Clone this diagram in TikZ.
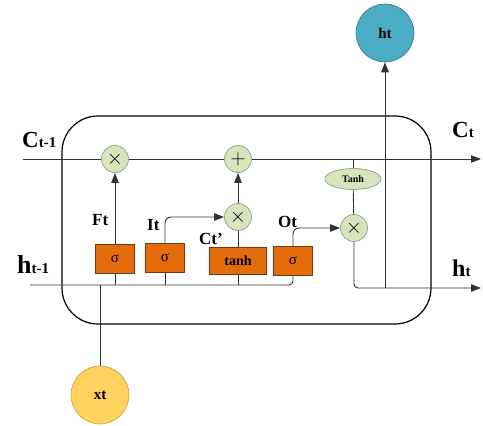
\documentclass[tikz,border=0pt]{standalone}
\usepackage{fontspec}
\setmainfont{Liberation Serif}
\usetikzlibrary{arrows.meta,shapes.geometric}
\definecolor{opgreen}{RGB}{216,228,190}
\definecolor{opline}{RGB}{150,165,130}
\definecolor{gateorange}{RGB}{228,108,10}
\definecolor{gateline}{RGB}{110,60,25}
\definecolor{outblue}{RGB}{75,172,198}
\definecolor{outline}{RGB}{50,120,140}
\definecolor{inyellow}{RGB}{254,210,92}
\definecolor{inline}{RGB}{200,160,60}
\tikzset{
  op/.style={circle, draw=opline, fill=opgreen, line width=0.8pt, minimum size=27pt, inner sep=0pt, font=\fontsize{20}{20}\selectfont},
  gate/.style={rectangle, draw=gateline, fill=gateorange, line width=0.8pt, minimum width=39pt, minimum height=29pt, inner sep=0pt},
  io/.style={circle, minimum size=58pt, inner sep=0pt, line width=0.6pt, font=\bfseries\fontsize{15}{15}\selectfont},
  wire/.style={draw=black!80, line width=0.9pt},
  arr/.style={wire, -{Triangle[length=10pt,width=7.5pt]}},
  lbl/.style={anchor=base west, inner sep=0pt, font=\bfseries\fontsize{17}{17}\selectfont}
}
\begin{document}
\begin{tikzpicture}[x=1pt, y=-1pt]
\useasboundingbox (0,0) rectangle (483,426);
% Cell
\draw[line width=1.2pt, rounded corners=36pt] (62,116) rectangle (431,324);

% Ends of the two lines
\coordinate (cin) at (23,159);
\coordinate (cout) at (481,159);
\coordinate (hin) at (30,285);
\coordinate (hout) at (481,288);
\coordinate (hjoin) at (385,288);

% Operations
\node[op] (mul1) at (115,159) {$\times$};
\node[op] (add) at (238,159) {$+$};
\node[op] (mul2) at (238,217) {$\times$};
\node[op] (mul3) at (354,228) {$\times$};
\node[ellipse, draw=opline, fill=opgreen, line width=0.8pt, minimum width=56pt, minimum height=21pt, inner sep=0pt,
  font=\bfseries\fontsize{10}{10}\selectfont] (tanhc) at (353,179) {Tanh};

% Gates
\node[gate, font=\fontsize{15}{15}\selectfont] (fg) at (115,259) {σ};
\node[gate, font=\fontsize{15}{15}\selectfont] (ig) at (165,258) {σ};
\node[gate, minimum width=57pt, minimum height=27pt, font=\bfseries\fontsize{14}{14}\selectfont] (cg) at (238,261) {tanh};
\node[gate, font=\fontsize{15}{15}\selectfont] (og) at (293,261) {σ};

% Input and output
\node[io, draw=inline, fill=inyellow] (xt) at (100,395) {xt};
\node[io, draw=outline, fill=outblue] (ht) at (385,33) {ht};

% Cell state line
\draw[wire] (cin) -- (mul1) -- (add);
\draw[arr] (add) -- (cout);
\draw[wire] (tanhc.north) -- (tanhc |- cin);
\draw[wire] (mul3) -- (tanhc);

% Hidden state line
\draw[wire, rounded corners=4pt] (hin) -- (og.south |- hin) -- (og.south);
\draw[wire] (xt) -- (xt |- hin);
\draw[wire] (fg.south |- hin) -- (fg.south);
\draw[wire] (ig.south |- hin) -- (ig.south);
\draw[wire] (cg.south |- hin) -- (cg.south);
\draw[arr, rounded corners=4pt] (mul3.south) |- (hout);
\draw[arr] (hjoin) -- (ht);

% Gate outputs
\draw[arr] (fg.north) -- (mul1);
\draw[arr, rounded corners=6pt] (ig.north) |- (mul2.west);
\draw[wire] (cg.north) -- (mul2);
\draw[arr] (mul2) -- (add);
\draw[arr, rounded corners=6pt] (og.north) |- (mul3.west);

% Labels
\node[lbl] (lct1) at (22,147) {{\fontsize{23}{23}\selectfont C}{\fontsize{15}{15}\selectfont t-1}};
\node[lbl] (lct) at (452,137) {{\fontsize{23}{23}\selectfont C}{\fontsize{15}{15}\selectfont t}};
\node[lbl] (lht1) at (17,273) {{\fontsize{26}{26}\selectfont h}{\fontsize{15}{15}\selectfont t-1}};
\node[lbl] (lht) at (452,276) {{\fontsize{24}{24}\selectfont h}{\fontsize{15}{15}\selectfont t}};
\node[lbl] (lft) at (92,225) {Ft};
\node[lbl] (lit) at (147,230) {It};
\node[lbl] (lcc) at (199,244) {Ct’};
\node[lbl] (lot) at (278,227) {Ot};
\end{tikzpicture}
\end{document}
